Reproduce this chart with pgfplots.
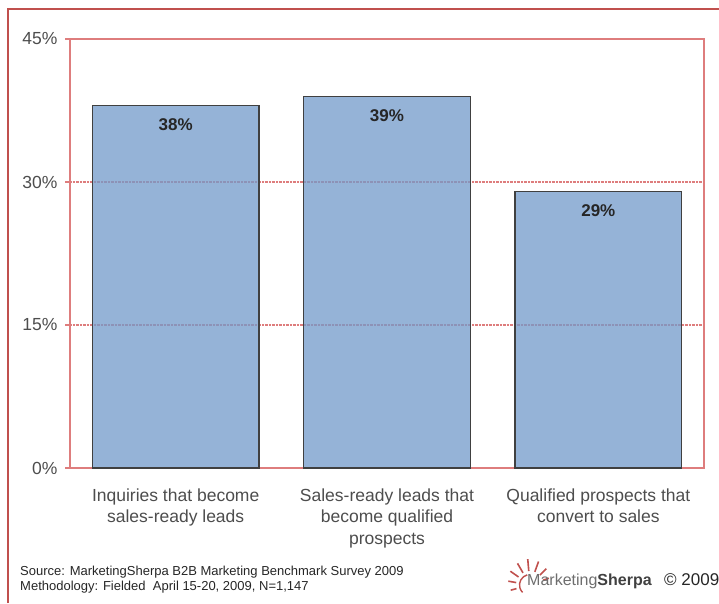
\documentclass[border=0pt]{standalone}
\usepackage{pgfplots}
\pgfplotsset{compat=1.18}
\usepackage{fontspec}
\setmainfont{Liberation Sans}
\definecolor{outerred}{RGB}{192,80,77}
\definecolor{framered}{RGB}{222,125,125}
\definecolor{barblue}{RGB}{114,154,202}
\definecolor{baredge}{RGB}{64,64,64}
\definecolor{txtgray}{RGB}{77,77,77}
\definecolor{logogray}{RGB}{110,110,110}
\begin{document}
\begin{tikzpicture}[x=1pt,y=1pt]
\useasboundingbox (0,0) rectangle (719,603);
\draw[outerred, line width=2pt] (8,0) -- (8,594) -- (719,594);
\begin{axis}[
  at={(70pt,135pt)}, anchor=south west,
  scale only axis, width=634pt, height=429pt,
  xmin=0, xmax=3, ymin=0, ymax=45,
  ybar, bar width=0.79,
  axis line style={framered, line width=1.2pt},
  /pgf/number format/assume math mode=true,
  ytick={0,15,30,45},
  yticklabel={\pgfmathprintnumber{\tick}\%},
  ytick pos=left,
  ymajorgrids,
  grid style={framered, densely dotted, line width=1.2pt},
  tick align=outside,
  major tick length=5pt,
  tick style={framered, line width=1.2pt},
  yticklabel style={font=\fontsize{17.5}{21}\selectfont, text=txtgray, xshift=-4pt},
  xtick={0.5,1.5,2.5},
  xticklabels={{Inquiries that become\\sales-ready leads},{Sales-ready leads that\\become qualified\\prospects},{Qualified prospects that\\convert to sales}},
  xtick pos=bottom,
  major x tick style={draw=none},
  xticklabel style={font=\fontsize{17.5}{21.5}\selectfont, text=txtgray, align=center, yshift=-12pt},
  extra x ticks={0,1,2,3},
  extra x tick labels={},
  extra x tick style={major x tick style={framered, line width=1.2pt}, xmajorgrids=false},
  nodes near coords={\pgfmathprintnumber{\pgfplotspointmeta}\%},
  every node near coord/.append style={font=\bfseries\fontsize{17}{20}\selectfont, text=black!85, anchor=north, yshift=-9pt, text opacity=1},
]
\addplot[fill=barblue, fill opacity=0.75, draw=baredge, line width=1.3pt] coordinates {(0.5,38) (1.5,39) (2.5,29)};
\end{axis}
% footer
\node[anchor=base west, inner sep=0pt, text=black!85, font=\fontsize{13}{15}\selectfont] at (20,28) {Source: MarketingSherpa B2B Marketing Benchmark Survey 2009};
\node[anchor=base west, inner sep=0pt, text=black!85, font=\fontsize{13}{15}\selectfont] at (20,13) {Methodology: Fielded\ \ April 15-20, 2009, N=1,147};
% logo
\foreach \a/\r in {20/20,45/23,70/25,95/26,120/25,145/24,170/22,195/20}{
  \draw[outerred, line width=1.6pt] (530,18) ++(\a:14) -- ++(\a:{\r-14});
}
\draw[outerred, line width=1.4pt] (530,18) ++(105:10.5) arc (105:225:10.5);
\node[anchor=base west, inner sep=0pt, font=\fontsize{16}{19}\selectfont] at (527,18) {\textcolor{logogray}{Marketing}\textcolor{black!75}{\bfseries Sherpa}};
\node[anchor=base west, inner sep=0pt, font=\fontsize{17}{19}\selectfont, text=black!85] at (664,18) {\textcopyright\ 2009};
\end{tikzpicture}
\end{document}
